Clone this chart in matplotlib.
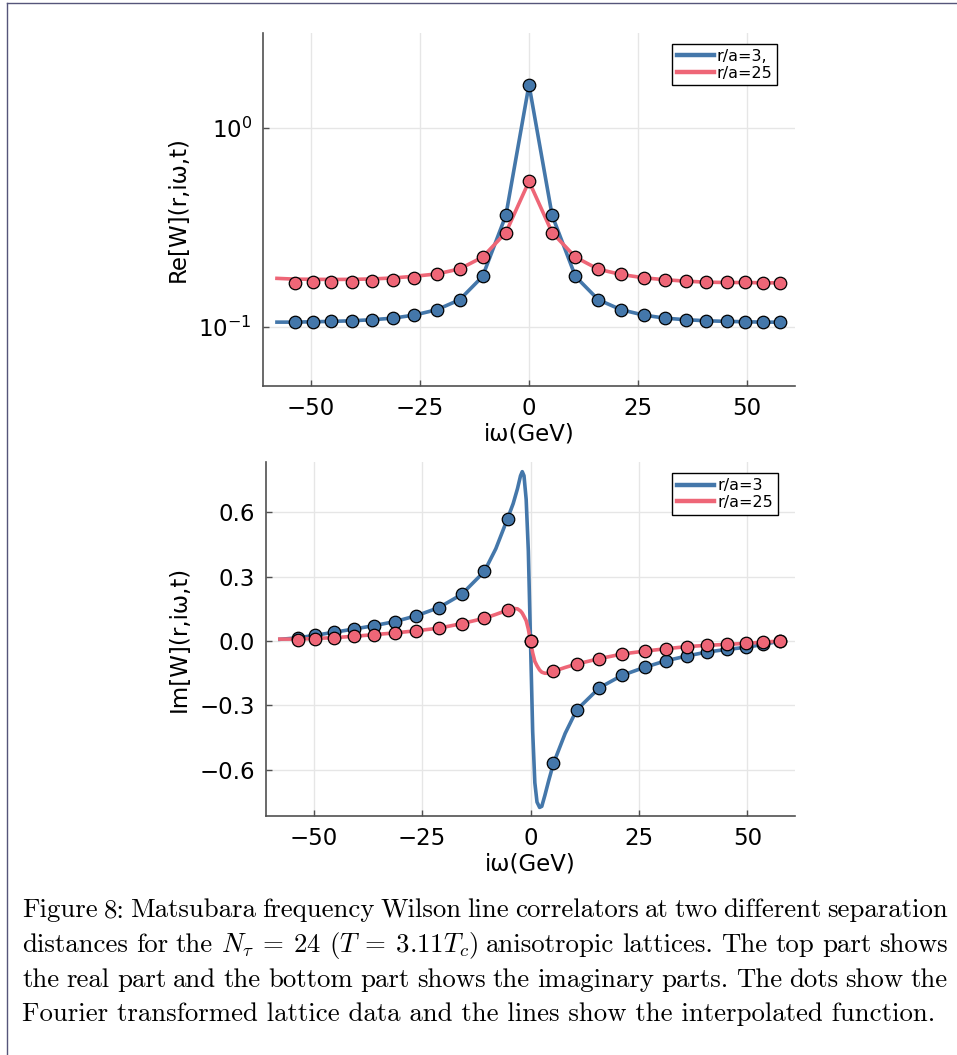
import matplotlib
matplotlib.use("Agg")
import matplotlib.pyplot as plt
from matplotlib.lines import Line2D
from matplotlib.ticker import FixedLocator, FuncFormatter, NullLocator

W, H = 957, 1055

# Matsubara frequencies (GeV), n = -11 .. 12
omega = [-53.6, -49.6, -45.3, -40.7, -36.0, -31.2, -26.3, -21.1, -15.9, -10.65, -5.3,
         0.0, 5.3, 10.65, 15.9, 21.1, 26.3, 31.2, 36.0, 40.7, 45.3, 49.6, 53.7, 57.6]

# Re[W] lattice points
re_r3 = [0.1059, 0.1064, 0.1068, 0.1076, 0.1089, 0.1109, 0.1149, 0.1223, 0.1372, 0.1796, 0.3644,
         1.649, 0.3644, 0.1796, 0.1372, 0.1223, 0.1149, 0.1109, 0.1089, 0.1076, 0.1068, 0.1064,
         0.1059, 0.1059]
re_r25 = [0.1662, 0.1675, 0.1675, 0.1681, 0.1701, 0.1729, 0.1769, 0.1838, 0.1953, 0.2245, 0.2985,
          0.5397, 0.2985, 0.2245, 0.1953, 0.1838, 0.1769, 0.1729, 0.1701, 0.1681, 0.1675, 0.1675,
          0.1669, 0.1669]

# Im[W] lattice points
im_r3 = [0.015, 0.027, 0.041, 0.056, 0.072, 0.091, 0.118, 0.156, 0.217, 0.324, 0.570,
         0.0, -0.570, -0.321, -0.2175, -0.160, -0.1225, -0.092, -0.070, -0.051, -0.039, -0.0295,
         -0.016, 0.0]
im_r25 = [0.005, 0.009, 0.015, 0.022, 0.030, 0.038, 0.048, 0.060, 0.081, 0.106, 0.144,
          0.0, -0.141, -0.107, -0.082, -0.0605, -0.047, -0.036, -0.026, -0.020, -0.0155, -0.011,
          -0.005, 0.0]

# interpolated functions
re_fit_x = [-57.8, -53.6, -49.6, -45.3, -40.7, -36.0, -31.2, -26.3, -21.1, -15.9, -10.65, -5.3,
            0.0, 5.3, 10.65, 15.9, 21.1, 26.3, 31.2, 36.0, 40.7, 45.3, 49.6, 53.7, 57.6, 58.6]
re_fit_r3 = [0.1059, 0.1059, 0.1064, 0.1068, 0.1076, 0.1089, 0.1109, 0.1149, 0.1223, 0.1372,
             0.1796, 0.3644, 1.649, 0.3644, 0.1796, 0.1372, 0.1223, 0.1149, 0.1109, 0.1089,
             0.1076, 0.1068, 0.1064, 0.1059, 0.1059, 0.1059]
re_fit_r25 = [0.1757, 0.1741, 0.1738, 0.1735, 0.1737, 0.1745, 0.1765, 0.1800, 0.1850, 0.1960,
              0.2245, 0.2985, 0.5397, 0.2985, 0.2245, 0.1953, 0.1838, 0.1769, 0.1729, 0.1701,
              0.1681, 0.1675, 0.1675, 0.1669, 0.1669, 0.1669]

im_fit_x = [-57.8, -53.6, -49.6, -45.3, -40.7, -36.0, -31.2, -26.3, -21.1, -15.9, -10.65, -8.0,
            -5.3, -4.0, -3.0, -2.3, -1.9, -1.5, -1.0, -0.5, 0.0, 0.5, 1.0, 1.5, 2.1, 2.6, 3.3,
            4.2, 5.3, 8.0, 10.65, 15.9, 21.1, 26.3, 31.2, 36.0, 40.7, 45.3, 49.6, 53.7, 57.6, 58.6]
im_fit_r3 = [0.008, 0.015, 0.027, 0.041, 0.056, 0.072, 0.091, 0.118, 0.156, 0.217, 0.324, 0.43,
             0.570, 0.64, 0.71, 0.77, 0.789, 0.77, 0.66, 0.42, 0.0, -0.42, -0.66, -0.75, -0.775,
             -0.77, -0.72, -0.65, -0.570, -0.43, -0.321, -0.2175, -0.160, -0.1225, -0.092, -0.070,
             -0.051, -0.039, -0.0295, -0.016, 0.0, 0.0]
im_fit_r25 = [0.009, 0.009, 0.012, 0.016, 0.022, 0.030, 0.038, 0.048, 0.060, 0.081, 0.106, 0.124,
              0.144, 0.152, 0.150, 0.140, 0.130, 0.115, 0.095, 0.055, 0.0, -0.055, -0.095, -0.115,
              -0.135, -0.145, -0.150, -0.150, -0.141, -0.123, -0.107, -0.082, -0.0605, -0.047,
              -0.036, -0.026, -0.020, -0.0155, -0.011, -0.005, 0.0, 0.0]

legend_re = ["r/a=3,", "r/a=25"]
legend_im = ["r/a=3", "r/a=25"]

BLUE = "#4477AA"
RED = "#EE6677"
AXIS_GRAY = "#505050"


def px_box(x0, y0, x1, y1):
    return [x0 / W, 1 - y1 / H, (x1 - x0) / W, (y1 - y0) / H]


def minus(v, _pos=None):
    return f"{v:.1f}".replace("-", "\u2212")


def style_axes(ax):
    for side in ("top", "right"):
        ax.spines[side].set_visible(False)
    for side in ("left", "bottom"):
        ax.spines[side].set_color(AXIS_GRAY)
        ax.spines[side].set_linewidth(1.2)
    ax.grid(True, color="#e6e6e6", linewidth=1.0)
    ax.set_axisbelow(True)
    ax.tick_params(direction="in", length=4, width=1, color=AXIS_GRAY,
                   labelsize=16.5, pad=8)
    ax.set_xlim(-61, 61)
    ax.xaxis.set_major_locator(FixedLocator([-50, -25, 0, 25, 50]))
    ax.set_xlabel("i\u03c9(GeV)", fontsize=16.5, labelpad=2)


def draw_panel(ax, fit_x, fit_a, fit_b, pts_a, pts_b, labels):
    ax.plot(fit_x, fit_a, color=BLUE, lw=2.6, label=labels[0], zorder=3)
    ax.plot(fit_x, fit_b, color=RED, lw=2.6, label=labels[1], zorder=3)
    ax.plot(omega, pts_a, ls="none", marker="o", ms=9, mfc=BLUE, mec="black", mew=0.9, zorder=4)
    ax.plot(omega, pts_b, ls="none", marker="o", ms=9, mfc=RED, mec="black", mew=0.9, zorder=5)
    leg = ax.legend(loc="upper right", bbox_to_anchor=(0.967, 0.968), borderaxespad=0,
                    fontsize=11.5, frameon=True, fancybox=False, framealpha=1,
                    edgecolor="black", handlelength=2.3, handletextpad=0.2,
                    borderpad=0.3, labelspacing=0.1)
    leg.get_frame().set_linewidth(1.0)
    for line in leg.get_lines():
        line.set_linewidth(3.2)


fig = plt.figure(figsize=(W / 100, H / 100), dpi=100)

# real part, log scale
ax_re = fig.add_axes(px_box(263, 33, 795, 386))
style_axes(ax_re)
ax_re.set_yscale("log")
ax_re.set_ylim(0.0506, 3.0)
ax_re.yaxis.set_major_locator(FixedLocator([0.1, 1.0]))
ax_re.yaxis.set_minor_locator(NullLocator())
ax_re.set_ylabel("Re[W](r,i\u03c9,t)", fontsize=16.5, labelpad=6)
draw_panel(ax_re, re_fit_x, re_fit_r3, re_fit_r25, re_r3, re_r25, legend_re)

# imaginary part
ax_im = fig.add_axes(px_box(266, 462, 795, 816))
style_axes(ax_im)
ax_im.set_ylim(-0.815, 0.834)
ax_im.yaxis.set_major_locator(FixedLocator([-0.6, -0.3, 0.0, 0.3, 0.6]))
ax_im.yaxis.set_major_formatter(FuncFormatter(minus))
ax_im.set_ylabel("Im[W](r,i\u03c9,t)", fontsize=16.5, labelpad=6)
draw_panel(ax_im, im_fit_x, im_fit_r3, im_fit_r25, im_r3, im_r25, legend_im)

# page frame (top and left edges)
frame_kw = dict(color="#55557a", lw=1.0, transform=fig.transFigure)
fig.add_artist(Line2D([7 / W, 1], [1 - 3 / H, 1 - 3 / H], **frame_kw))
fig.add_artist(Line2D([7 / W, 7 / W], [0, 1 - 3 / H], **frame_kw))

# caption, set as a justified paragraph
caption = [
    r"Figure 8: Matsubara frequency Wilson line correlators at two different separation",
    r"distances for the $N_\tau\:=\:24$ $(T\:=\:3.11T_c)$ anisotropic lattices. The top part shows",
    r"the real part and the bottom part shows the imaginary parts. The dots show the",
    r"Fourier transformed lattice data and the lines show the interpolated function.",
]
cap_kw = dict(family="cmr10", math_fontfamily="cm", fontsize=19.3, va="baseline",
              ha="left", color="black")
x_left, x_right = 22, 948
baselines = [917, 952, 987, 1021]
renderer = fig.canvas.get_renderer()
for i, (line, yb) in enumerate(zip(caption, baselines)):
    if i == len(caption) - 1:
        fig.text(x_left / W, 1 - yb / H, line, **cap_kw)
        continue
    words = line.split(" ")
    texts = [fig.text(0, 1 - yb / H, w, **cap_kw) for w in words]
    widths = [t.get_window_extent(renderer).width for t in texts]
    gap = (x_right - x_left - sum(widths)) / (len(words) - 1)
    x = x_left
    for t, w in zip(texts, widths):
        t.set_x(x / W)
        x += w + gap

fig.savefig("out.png", dpi=100, facecolor="white")
